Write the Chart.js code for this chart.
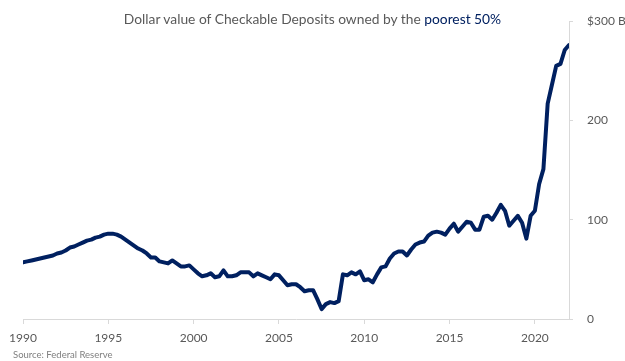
<!DOCTYPE html>
<html>
<head>
<meta charset="utf-8">
<script src="https://cdn.jsdelivr.net/npm/chart.js@4/dist/chart.umd.min.js"></script>
<style>
  html, body { margin: 0; padding: 0; background: #fff; }
  #wrap { position: relative; width: 625px; height: 361px; font-family: Lato, "Open Sans", sans-serif; }
  #titulo { position: absolute; top: 10px; left: 0; width: 625px; text-align: center; font-size: 13.8px; line-height: 18px; color: #595959; }
  #titulo span { color: #002060; }
  #fuente { position: absolute; left: 13px; top: 349px; font-size: 9.5px; line-height: 12px; color: #7f7f7f; }
</style>
</head>
<body>
<div id="wrap">
  <canvas id="chartDepositos" width="625" height="361"></canvas>
  <div id="titulo">Dollar value of Checkable Deposits owned by the <span>poorest 50%</span></div>
  <div id="fuente">Source: Federal Reserve</div>
</div>
<script>
/* Serie trimestral, primer trimestre de 1990 en adelante (miles de millones de USD). */
const startYear = 1990;
const quarterlyDeposits = [
  57, 58, 59, 60,       // 1990
  61, 62, 63, 64,       // 1991
  66, 67, 69, 72,       // 1992
  73, 75, 77, 79,       // 1993
  80, 82, 83, 85,       // 1994
  86, 86, 85, 83,       // 1995
  80, 77, 74, 71,       // 1996
  69, 66, 62, 62,       // 1997
  58, 57, 56, 59,       // 1998
  56, 53, 53, 54,       // 1999
  50, 46, 43, 44,       // 2000
  46, 42, 43, 49,       // 2001
  43, 43, 44, 47,       // 2002
  47, 47, 43, 46,       // 2003
  44, 42, 40, 45,       // 2004
  44, 39, 34, 35,       // 2005
  35, 32, 28, 29,       // 2006
  29, 20, 10, 15,       // 2007
  17, 16, 18, 45,       // 2008
  44, 47, 45, 48,       // 2009
  39, 40, 37, 45,       // 2010
  52, 53, 61, 66,       // 2011
  68, 68, 64, 70,       // 2012
  75, 77, 78, 84,       // 2013
  87, 88, 87, 85,       // 2014
  91, 96, 88, 93,       // 2015
  98, 97, 90, 90,       // 2016
  103, 104, 100, 107,   // 2017
  115, 109, 94, 99,     // 2018
  104, 97, 81, 104,     // 2019
  109, 136, 151, 217,   // 2020
  236, 255, 257, 271,   // 2021
  276                   // 2022
];
const yearRange = [1990, 2022];
const valueTicks = [0, 100, 200, 300];
const topTickLabel = '$300 Bn';

const azulOscuro = '#002060';
const grisEje = '#d9d9d9';
const grisTexto = '#595959';

const puntos = quarterlyDeposits.map((v, i) => ({ x: startYear + i / 4, y: v }));

new Chart(document.getElementById('chartDepositos').getContext('2d'), {
  type: 'line',
  data: {
    datasets: [{
      label: 'Checkable deposits',
      data: puntos,
      borderColor: azulOscuro,
      borderWidth: 4,
      borderJoinStyle: 'round',
      borderCapStyle: 'round',
      pointRadius: 0,
      tension: 0,
      fill: false
    }]
  },
  options: {
    responsive: false,
    animation: false,
    layout: { padding: { top: 19, left: 23, right: 0, bottom: 0 } },
    plugins: { legend: { display: false }, tooltip: { enabled: false }, title: { display: false } },
    scales: {
      x: {
        type: 'linear',
        min: yearRange[0],
        max: yearRange[1],
        afterFit: s => { s.height = 42; },
        grid: { drawOnChartArea: false, drawTicks: true, tickLength: 5, color: grisEje },
        border: { color: grisEje },
        ticks: {
          stepSize: 5,
          includeBounds: false,
          padding: 7,
          color: grisTexto,
          font: { family: 'Lato', size: 12 },
          maxRotation: 0,
          callback: v => String(v)
        }
      },
      y: {
        position: 'right',
        min: valueTicks[0],
        max: valueTicks[valueTicks.length - 1],
        afterFit: s => { s.width = 56; },
        grid: { drawOnChartArea: false, drawTicks: true, tickLength: 4, color: grisEje },
        border: { color: grisEje },
        ticks: {
          stepSize: 100,
          padding: 14,
          color: grisTexto,
          font: { family: 'Lato', size: 12 },
          callback: v => (v === valueTicks[valueTicks.length - 1] ? topTickLabel : String(v))
        }
      }
    }
  }
});
</script>
</body>
</html>
